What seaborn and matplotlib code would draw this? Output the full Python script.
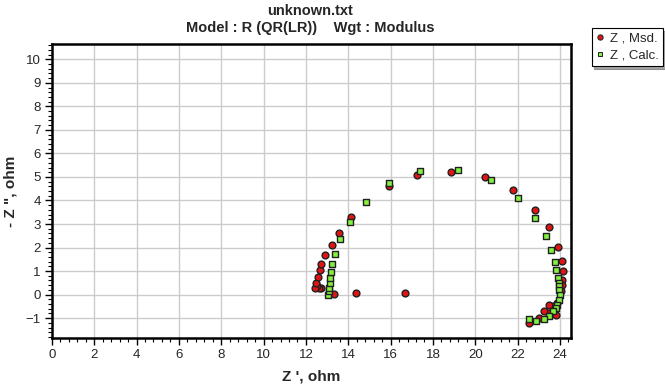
import numpy as np
import pandas as pd
import seaborn as sns
import matplotlib.pyplot as plt
from matplotlib.ticker import MultipleLocator
from matplotlib.lines import Line2D

# Measured impedance (Z', -Z'')
msd_zr = [16.68, 14.35, 13.31, 12.72, 12.62, 12.50, 12.45, 12.49, 12.57, 12.68, 12.72,
          12.92, 13.22, 13.55, 14.11, 15.92, 17.26, 18.87, 20.45, 21.78, 22.83, 23.50,
          23.91, 24.11, 24.13, 24.08, 24.10, 24.07, 23.85, 23.66, 23.50, 23.47, 23.26,
          23.81, 23.02, 22.55]
msd_zi = [0.07, 0.07, 0.03, 0.28, 0.30, 0.35, 0.26, 0.50, 0.74, 1.04, 1.29,
          1.67, 2.10, 2.60, 3.31, 4.61, 5.07, 5.21, 4.99, 4.46, 3.59, 2.87,
          2.04, 1.43, 0.99, 0.61, 0.39, 0.17, -0.36, -0.50, -0.46, -0.79, -0.71,
          -0.86, -1.00, -1.21]

# Calculated impedance (Z', -Z'')
calc_zr = [13.06, 13.08, 13.09, 13.14, 13.14, 13.18, 13.25, 13.38, 13.63, 14.09,
           14.85, 15.92, 17.40, 19.17, 20.72, 22.00, 22.82, 23.32, 23.58, 23.78,
           23.83, 23.89, 23.94, 23.96, 23.97, 23.99, 23.94, 23.88, 23.81, 23.69,
           23.48, 23.23, 22.87, 22.52]
calc_zi = [0.00, 0.14, 0.29, 0.49, 0.69, 0.97, 1.29, 1.74, 2.36, 3.10,
           3.93, 4.74, 5.26, 5.30, 4.87, 4.10, 3.27, 2.50, 1.89, 1.40,
           1.03, 0.71, 0.50, 0.36, 0.21, 0.00, -0.21, -0.43, -0.57, -0.71,
           -0.90, -1.04, -1.11, -1.04]

x_ticks = list(range(0, 25, 2))
y_ticks = list(range(-1, 11))

msd = pd.DataFrame({"zr": msd_zr, "zi": msd_zi})
calc = pd.DataFrame({"zr": calc_zr, "zi": calc_zi})

sns.set_theme(style="white")
plt.rcParams['font.family'] = ['Liberation Sans', 'DejaVu Sans']

fig = plt.figure(figsize=(6.65, 3.86), dpi=100)
ax = fig.add_axes([0.078, 0.124, 0.780, 0.762])

red = '#e01414'
green = '#84f040'

sns.scatterplot(data=msd, x="zr", y="zi", ax=ax, marker='o', s=24, color=red,
                edgecolor='#202020', linewidth=1.0, zorder=3, legend=False)
sns.scatterplot(data=calc, x="zr", y="zi", ax=ax, marker='s', s=18, color=green,
                edgecolor='#202020', linewidth=1.0, zorder=4, legend=False)

ax.set_xlim(0, 24.5)
ax.set_ylim(-1.85, 10.65)
ax.set_xticks(x_ticks)
ax.set_yticks(y_ticks)
ax.xaxis.set_minor_locator(MultipleLocator(0.4))
ax.yaxis.set_minor_locator(MultipleLocator(0.2))
ax.tick_params(axis='both', which='major', direction='out', length=5, width=1,
               color='black', labelsize=9.5, bottom=True, left=True, pad=3)
ax.tick_params(axis='both', which='minor', direction='out', length=3, width=0.8,
               color='black', bottom=True, left=True)
ax.grid(True, which='major', color='#cccccc', linewidth=1.0, zorder=0)
ax.set_axisbelow(True)
for sp in ax.spines.values():
    sp.set_color('black')
    sp.set_linewidth(1.8)

ax.set_xlabel("Z ', ohm", fontsize=11, fontweight='bold', labelpad=6)
ax.set_ylabel('- Z ", ohm', fontsize=11, fontweight='bold', labelpad=6)

fig.text(0.466, 0.972, "unknown.txt", ha='center', va='center', fontsize=10.5,
         fontweight='bold')
fig.text(0.466, 0.928, "Model : R (QR(LR))    Wgt : Modulus", ha='center',
         va='center', fontsize=10.5, fontweight='bold')

handles = [
    Line2D([], [], marker='o', linestyle='none', markersize=3.8,
           markerfacecolor=red, markeredgecolor='#202020', markeredgewidth=0.7),
    Line2D([], [], marker='s', linestyle='none', markersize=3.5,
           markerfacecolor=green, markeredgecolor='#202020', markeredgewidth=0.7),
]
leg = fig.legend(handles, ["Z , Msd.", "Z , Calc."], loc='upper right',
                 bbox_to_anchor=(0.997, 0.928), frameon=True, fancybox=False,
                 shadow=True, fontsize=9.5, handlelength=0.6, handletextpad=0.4,
                 borderpad=0.35, labelspacing=0.35, borderaxespad=0)
leg.get_frame().set_edgecolor('black')
leg.get_frame().set_linewidth(0.8)

fig.savefig("out.png", dpi=100)
